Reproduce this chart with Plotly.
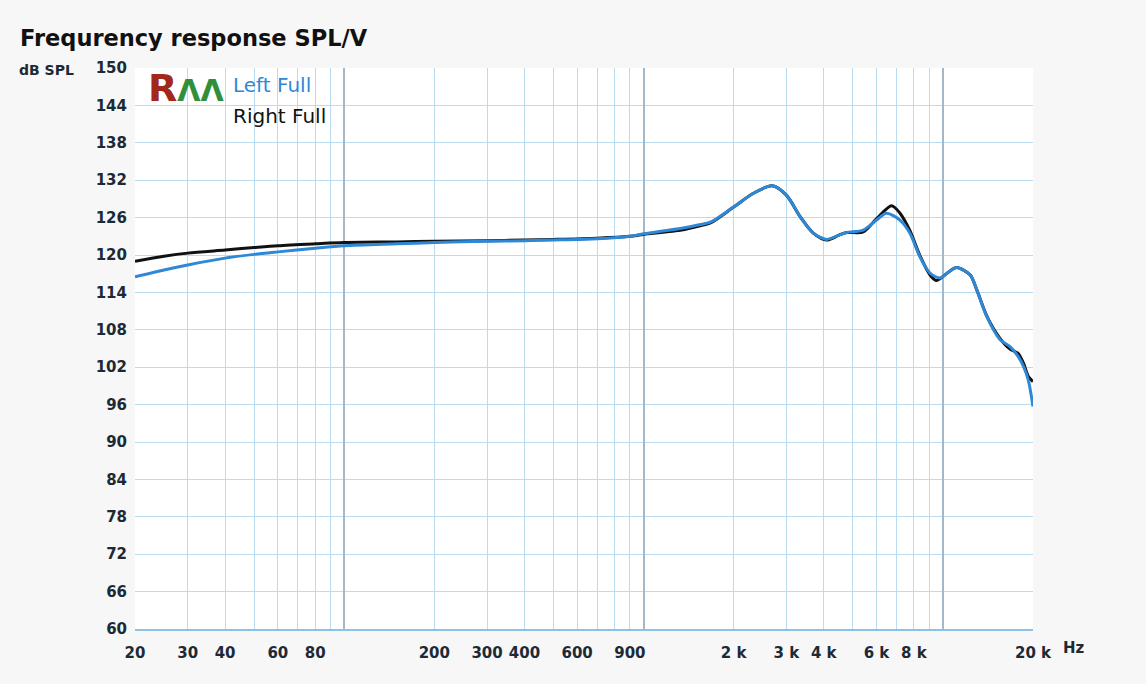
import plotly.graph_objects as go

# ---- data ----
freq_left = [20, 25, 30, 40, 50, 60, 80, 100, 150, 200, 300, 400, 500, 700, 900, 1000,
             1340, 1520, 1680, 2000, 2330, 2690, 3000, 3340, 3690, 4090, 4500, 4770, 5420,
             6000, 6480, 7190, 7760, 8380, 9060, 9780, 10400, 11100, 12340, 12980, 14020,
             15530, 16760, 17860, 18600, 19300, 20000]
db_left = [116.5, 117.6, 118.4, 119.5, 120.1, 120.5, 121.1, 121.5, 121.8, 122.0, 122.2, 122.3,
           122.4, 122.6, 123.0, 123.4, 124.3, 124.8, 125.3, 127.7, 129.9, 131.1, 129.6, 126.1,
           123.5, 122.5, 123.2, 123.6, 124.0, 125.6, 126.7, 125.6, 123.5, 119.7, 117.1, 116.3,
           117.2, 118.0, 116.8, 114.4, 110.1, 106.4, 105.3, 103.7, 102.1, 99.9, 95.7]

freq_right = [20, 25, 30, 40, 50, 60, 80, 100, 150, 200, 300, 400, 500, 700, 900, 1000,
              1340, 1520, 1680, 2000, 2330, 2690, 3000, 3340, 3690, 4090, 4500, 4770, 5420,
              6000, 6740, 7190, 7760, 8380, 9060, 9530, 10400, 11100, 12340, 12980, 14020,
              15530, 16760, 17860, 18600, 19300, 20000]
db_right = [119.0, 119.8, 120.3, 120.8, 121.2, 121.5, 121.8, 122.0, 122.1, 122.2, 122.3, 122.4,
            122.5, 122.7, 123.0, 123.3, 124.0, 124.6, 125.2, 127.7, 129.9, 131.1, 129.6, 126.1,
            123.5, 122.4, 123.2, 123.6, 123.7, 125.8, 127.9, 126.7, 123.9, 119.9, 116.8, 115.9,
            117.2, 118.0, 116.8, 114.4, 110.2, 106.6, 104.9, 104.2, 102.6, 100.5, 99.7]

grid_freqs = [20, 30, 40, 50, 60, 70, 80, 90, 100,
              200, 300, 400, 500, 600, 700, 800, 900, 1000,
              2000, 3000, 4000, 5000, 6000, 7000, 8000, 9000, 10000, 20000]
tick_labels = {20: "20", 30: "30", 40: "40", 60: "60", 80: "80",
               200: "200", 300: "300", 400: "400", 600: "600", 900: "900",
               2000: "2 k", 3000: "3 k", 4000: "4 k", 6000: "6 k", 8000: "8 k",
               20000: "20 k"}
decades = [100, 1000, 10000]
y_ticks = list(range(60, 151, 6))

BLUE = "#2e88d6"
BLACK = "#111111"
GRID = "#b9dcf0"
LABEL = "#1c2a36"
BG = "#f7f7f7"
FONT = "DejaVu Sans"

W, H = 1146, 684
L, R, T, B = 135, 113, 68, 55
pw, ph = W - L - R, H - T - B


def px(x, y):
    return (x - L) / pw, 1 - (y - T) / ph


fig = go.Figure()
# invisible trace to anchor decade-grid overlay axis
fig.add_trace(go.Scatter(x=[20, 20000], y=[60, 60], mode="lines", line=dict(width=0),
                         hoverinfo="skip", showlegend=False, xaxis="x2", yaxis="y"))
fig.add_trace(go.Scatter(x=freq_right, y=db_right, mode="lines", name="Right Full",
                         line=dict(color=BLACK, width=3, shape="spline", smoothing=0.8)))
fig.add_trace(go.Scatter(x=freq_left, y=db_left, mode="lines", name="Left Full",
                         line=dict(color=BLUE, width=3, shape="spline", smoothing=0.8)))

xrange_log = [1.30103, 4.30103]

fig.update_layout(
    width=W, height=H,
    paper_bgcolor=BG, plot_bgcolor="#ffffff",
    margin=dict(l=L, r=R, t=T, b=B),
    showlegend=False,
    font=dict(family=FONT, color=LABEL),
    xaxis=dict(type="log", range=xrange_log, tickmode="array", tickvals=grid_freqs,
               ticktext=[tick_labels.get(f, "") for f in grid_freqs],
               showgrid=True, gridcolor=GRID, gridwidth=1, ticks="",
               tickfont=dict(family=FONT, size=15, color=LABEL, weight="bold"),
               ticklabelstandoff=9, zeroline=False,
               showline=True, linecolor="#8fc2e2", linewidth=2),
    xaxis2=dict(type="log", range=xrange_log, overlaying="x", tickmode="array",
                tickvals=decades, showticklabels=False, showgrid=True,
                gridcolor="#a3b9c9", gridwidth=1.5, ticks="", zeroline=False),
    yaxis=dict(range=[60, 150], tickmode="array", tickvals=y_ticks,
               showgrid=True, gridcolor=GRID, gridwidth=1, ticks="",
               tickfont=dict(family=FONT, size=15, color=LABEL, weight="bold"),
               ticklabelstandoff=7, zeroline=False, showline=False),
)


def ann(text, x, y, size, color, family=FONT):
    ax, ay = px(x, y)
    return dict(text=text, x=ax, y=ay, xref="paper", yref="paper",
                xanchor="left", yanchor="middle", showarrow=False,
                font=dict(family=family, size=size, color=color))


annotations = [
    ann("<b>Frequrency response SPL/V</b>", 18, 38, 22.5, "#111111"),
    ann("<b>dB SPL</b>", 17, 70, 14, LABEL),
    ann("<b>Hz</b>", 1061, 648, 15, LABEL),
    ann("Left Full", 231, 85, 20, BLUE),
    ann("Right Full", 231, 116, 20, BLACK),
    ann("<b><span style='color:#a3281c'>R</span>"
        "<span style='color:#2f8f3a;font-size:30px'>ΛΛ</span></b>", 146, 88, 38, "#2f8f3a"),
]
fig.update_layout(annotations=annotations)

fig.write_html(
    "out.html",
    config={"displayModeBar": False},
    post_script="document.body.style.margin='0';document.body.style.background='%s';" % BG,
)
